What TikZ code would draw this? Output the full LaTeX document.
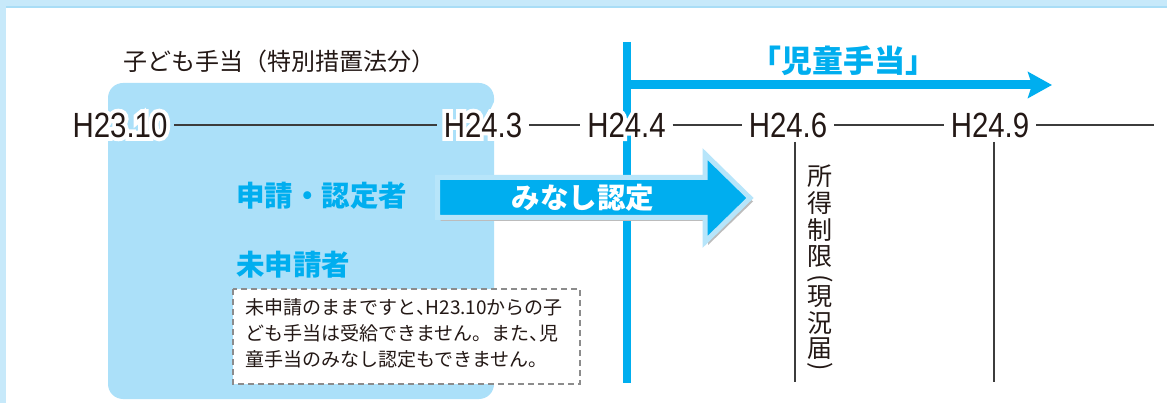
\documentclass[tikz,border=0pt]{standalone}
\usepackage{fontspec}
\setmainfont{Noto Sans CJK JP}
\newfontfamily\latinc[FakeStretch=0.84]{Liberation Sans}
\newfontfamily\latinhalo[FakeStretch=0.84,FakeBold=22]{Liberation Sans}
\usetikzlibrary{arrows.meta}
\definecolor{cyanb}{HTML}{00AEEF}
\definecolor{rectc}{HTML}{ABE0F9}
\definecolor{bandc}{HTML}{C7E9FA}
\definecolor{bandl}{HTML}{A9DDF6}
\definecolor{arrowout}{HTML}{B7E5FA}
\definecolor{shadowg}{HTML}{BCBCBC}
\definecolor{dashg}{HTML}{8C8C8C}
\definecolor{ink}{HTML}{231815}
\definecolor{lineg}{HTML}{3C3C3C}
\newcommand\halo[1]{\rlap{\latinhalo\color{white}#1}#1}
\begin{document}
\begin{tikzpicture}[x=1pt,y=-1pt,
  lab/.style={inner sep=0pt, outer sep=7pt, text=ink, font=\latinc\fontsize{35}{35}\selectfont},
  tl/.style={draw=lineg, line width=1.6pt},
  tick/.style={draw=lineg, line width=1.4pt},
  bluehead/.style={font=\bfseries\fontsize{28.5}{28.5}\selectfont, text=cyanb, inner sep=0pt},
  vchar/.style={font=\fontsize{25}{25}\selectfont, text=ink, inner sep=0pt},
  bigarrow/.style={fill=cyanb, draw=arrowout, line width=5pt, line join=miter},
  ]
\useasboundingbox (0,0) rectangle (1167,403);
\fill[white] (0,0) rectangle (1167,403);
% frame
\fill[bandc] (0,0) rectangle (1167,8.5);
\fill[bandl] (0,6.5) rectangle (1167,8.5);
\fill[bandc] (0,0) rectangle (6,403);
% light blue period box
\fill[rectc, rounded corners=15pt] (108,83) rectangle (494,399);
% title
\node[font=\fontsize{24}{24}\selectfont, text=ink, inner sep=0pt] (title) at (279,61) {子ども手当（特別措置法分）};
% blue vertical line and arrow
\coordinate (vtop) at (627,42);
\coordinate (vbot) at (627,383);
\draw[cyanb, line width=8pt] (vtop) -- (vbot);
\coordinate (astart) at (623,85);
\coordinate (aend) at (1052,85);
\draw[cyanb, line width=9pt, -{Stealth[length=24pt,width=26pt,inset=4pt]}] (astart) -- (aend);
\node[font=\bfseries\fontsize{31}{31}\selectfont, text=cyanb, inner sep=0pt] (jidou) at (843,61) {「児童手当」};
% timeline
\node[lab] (l1) at (120,125) {\halo{H23.10}};
\node[lab] (l2) at (483,125) {\halo{H24.3}};
\node[lab] (l3) at (626.5,125) {\halo{H24.4}};
\node[lab] (l4) at (788,125) {\halo{H24.6}};
\node[lab] (l5) at (990,125) {\halo{H24.9}};
\coordinate (tend) at (1154,125);
\draw[tl] (l1.east) -- (l2.west);
\draw[tl] (l2.east) -- (l3.west);
\draw[tl] (l3.east) -- (l4.west);
\draw[tl] (l4.east) -- (l5.west);
\draw[tl] (l5.east) -- (tend);
% ticks
\coordinate (k1a) at (795,142); \coordinate (k1b) at (795,382);
\coordinate (k2a) at (994,142); \coordinate (k2b) at (994,382);
\draw[tick] (k1a) -- (k1b);
\draw[tick] (k2a) -- (k2b);
% vertical text
\node[vchar] (v1) at (820,176) {所};
\node[vchar] (v2) at (820,203) {得};
\node[vchar] (v3) at (820,230) {制};
\node[vchar] (v4) at (820,257) {限};
\node[vchar, rotate=-90] (v5) at (820,279) {(};
\node[vchar] (v6) at (820,297) {現};
\node[vchar] (v7) at (820,323) {況};
\node[vchar] (v8) at (820,349) {届};
\node[vchar, rotate=-90] (v9) at (820,367) {)};
% mina-shi arrow
\fill[shadowg] (440.5,181.5) -- (708,181.5) -- (708,158) -- (753,201.5) -- (708,245) -- (708,221) -- (440.5,221) -- cycle;
\path[bigarrow] (437.5,177.5) -- (705,177.5) -- (705,154) -- (750,198) -- (705,242) -- (705,217.5) -- (437.5,217.5) -- cycle;
\node[font=\bfseries\fontsize{28.5}{28.5}\selectfont, text=white, inner sep=0pt] (mina) at (583,198) {みなし認定};
% labels in box
\node[bluehead, anchor=west] (shinsei) at (236,196) {申請・認定者};
\node[bluehead, anchor=west] (mishinsei) at (236,265) {未申請者};
% dashed note
\draw[fill=white, draw=dashg, line width=2pt, dash pattern=on 6pt off 4pt] (233,289) rectangle (580,384);
\node[anchor=north west, inner sep=0pt, align=left, text=ink, font=\fontsize{19}{26}\selectfont] (note) at (245,298)
 {未申請のままですと\makebox[0.5em][l]{、}H23.10からの子\\ども手当は受給できません。また\makebox[0.5em][l]{、}児\\童手当のみなし認定もできません。};
\end{tikzpicture}
\end{document}
